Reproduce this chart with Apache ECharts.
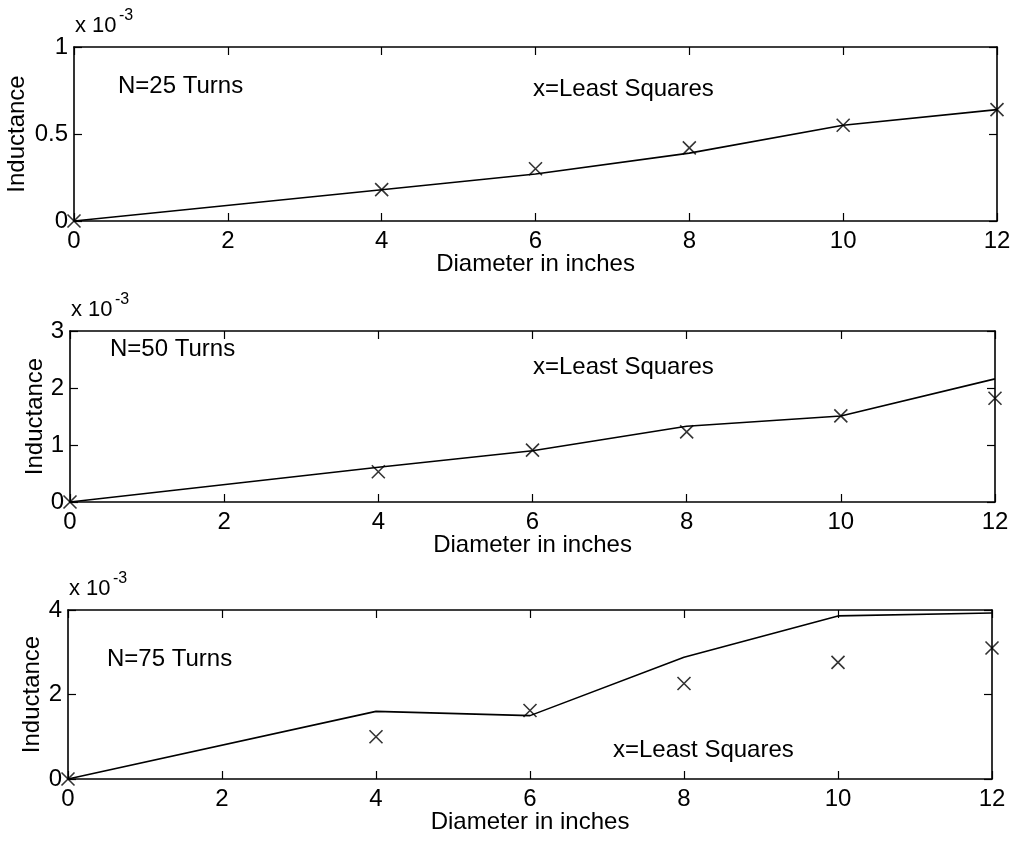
<!DOCTYPE html>
<html>
<head>
<meta charset="utf-8">
<script src="https://cdn.jsdelivr.net/npm/echarts@6/dist/echarts.min.js"></script>
<style>
  html, body { margin: 0; padding: 0; background: #fff; }
  #chart { width: 1011px; height: 846px; }
</style>
</head>
<body>
<div id="chart"></div>
<script>
'use strict';

// diameters (inches); inductance values in units of 1e-3
const diameters = [0, 4, 6, 8, 10, 12];

const fit25 = [0, 0.18, 0.27, 0.39, 0.55, 0.64];
const lsq25 = [0, 0.18, 0.30, 0.42, 0.55, 0.64];
const fit50 = [0, 0.61, 0.90, 1.33, 1.51, 2.16];
const lsq50 = [0, 0.53, 0.91, 1.23, 1.51, 1.82];
const fit75 = [0, 1.60, 1.50, 2.88, 3.86, 3.93];
const lsq75 = [0, 1.00, 1.62, 2.26, 2.76, 3.10];

const turnLabels = ['N=25 Turns', 'N=50 Turns', 'N=75 Turns'];
const yMax = [1, 3, 4];
const yStep = [0.5, 1, 2];

const font = '"Liberation Sans", Arial, sans-serif';
const fs = 24;
const cross = 'path://M0,0L10,10M10,0L0,10';

const grids = [
    {left: 74, right: 14, top: 47, height: 174, outerBoundsMode: 'none'},
    {left: 70, right: 16, top: 331, height: 171, outerBoundsMode: 'none'},
    {left: 68, right: 19, top: 610, height: 169, outerBoundsMode: 'none'},
];
// ylabel sits further out when the tick labels are wider (0.5)
const yNameGap = [45, 23, 24];

const fits = [fit25, fit50, fit75];
const lsqs = [lsq25, lsq50, lsq75];

const tickStyle = {show: true, inside: true, length: 8, lineStyle: {color: '#000', width: 1.2}};
const lineStyle = {show: true, onZero: false, lineStyle: {color: '#000', width: 1.6}};

const xAxis = [];
const yAxis = [];
const series = [];

grids.forEach((g, i) => {
    xAxis.push({
        type: 'value', gridIndex: i, min: 0, max: 12, interval: 2, position: 'bottom',
        axisLine: lineStyle, axisTick: tickStyle, splitLine: {show: false},
        axisLabel: {color: '#000', fontSize: fs, fontFamily: font, margin: 8},
        name: 'Diameter in inches', nameLocation: 'middle', nameGap: 31, nameMoveOverlap: false,
        nameTextStyle: {color: '#000', fontSize: fs, fontFamily: font},
    });
    xAxis.push({
        type: 'value', gridIndex: i, min: 0, max: 12, interval: 2, position: 'top',
        axisLine: lineStyle, axisTick: tickStyle, splitLine: {show: false},
        axisLabel: {show: false},
    });
    yAxis.push({
        type: 'value', gridIndex: i, min: 0, max: yMax[i], interval: yStep[i], position: 'left',
        axisLine: lineStyle, axisTick: tickStyle, splitLine: {show: false},
        axisLabel: {color: '#000', fontSize: fs, fontFamily: font, margin: 6},
        name: 'Inductance', nameLocation: 'middle', nameGap: yNameGap[i], nameMoveOverlap: false,
        nameTextStyle: {color: '#000', fontSize: fs, fontFamily: font},
    });
    yAxis.push({
        type: 'value', gridIndex: i, min: 0, max: yMax[i], interval: yStep[i], position: 'right',
        axisLine: lineStyle, axisTick: tickStyle, splitLine: {show: false},
        axisLabel: {show: false},
    });

    series.push({
        type: 'line', xAxisIndex: 2 * i, yAxisIndex: 2 * i,
        data: diameters.map((d, k) => [d, fits[i][k]]),
        showSymbol: false, symbol: 'none',
        lineStyle: {color: '#000', width: 1.6}, silent: true, animation: false,
    });
    series.push({
        type: 'scatter', xAxisIndex: 2 * i, yAxisIndex: 2 * i,
        data: diameters.map((d, k) => [d, lsqs[i][k]]),
        symbol: cross, symbolSize: 13,
        itemStyle: {color: 'transparent', borderColor: '#000', borderWidth: 1.6},
        silent: true, animation: false,
    });
});

const txt = {fill: '#000', fontSize: fs, fontFamily: font};
const graphic = [];
grids.forEach((g) => {
    graphic.push({type: 'text', left: g.left + 1, top: g.top - 32,
        style: {text: 'x 10', fill: '#000', fontSize: 22, fontFamily: font}});
    graphic.push({type: 'text', left: g.left + 45, top: g.top - 39,
        style: {text: '-3', fill: '#000', fontSize: 16, fontFamily: font}});
});
graphic.push({type: 'text', left: 118, top: 74, style: Object.assign({text: turnLabels[0]}, txt)});
graphic.push({type: 'text', left: 533, top: 77, style: Object.assign({text: 'x=Least Squares'}, txt)});
graphic.push({type: 'text', left: 110, top: 337, style: Object.assign({text: turnLabels[1]}, txt)});
graphic.push({type: 'text', left: 533, top: 355, style: Object.assign({text: 'x=Least Squares'}, txt)});
graphic.push({type: 'text', left: 107, top: 647, style: Object.assign({text: turnLabels[2]}, txt)});
graphic.push({type: 'text', left: 613, top: 738, style: Object.assign({text: 'x=Least Squares'}, txt)});

const chart = echarts.init(document.getElementById('chart'), null, {renderer: 'canvas'});
chart.setOption({
    animation: false,
    backgroundColor: '#fff',
    grid: grids,
    xAxis: xAxis,
    yAxis: yAxis,
    series: series,
    graphic: graphic,
});
</script>
</body>
</html>
